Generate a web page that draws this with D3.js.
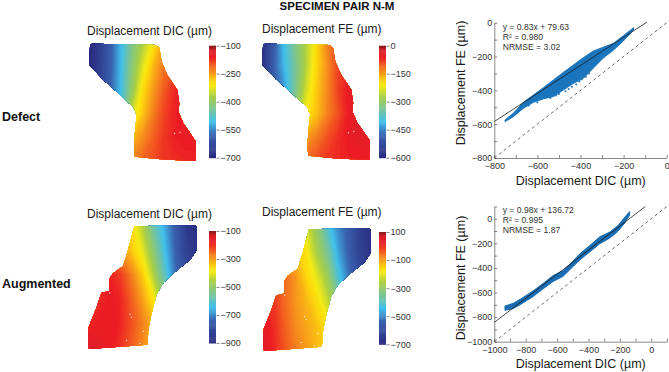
<!DOCTYPE html>
<html>
<head>
<meta charset="utf-8">
<script src="https://cdn.jsdelivr.net/npm/d3@7"></script>
<style>
  html, body { margin: 0; padding: 0; background: #fff; }
  text { font-family: "Liberation Sans", Arial, sans-serif; }
</style>
</head>
<body>
<svg id="fig" width="669" height="372"></svg>
<script>
"use strict";

// Specimen outlines, in percent of the specimen box (u across, v down)
var defectOutline = [[1,1],[3.4,0.6],[62.6,1.7],[65.7,3.9],[67.9,15.7],[73.2,26.9],[82.6,39.5],[84.4,50.7],[83.5,57.7],[88.2,67.5],[100,82.9],[99.7,99.2],[69.5,97.8],[43,95.5],[42,88.5],[43,74.5],[44.5,60.5],[41.4,53.5],[33.6,47.9],[27.4,42.3],[13.4,31.1],[0.3,18.5]];
var augmentedOutline = [[42.5,1.1],[98.5,0],[100,2.7],[99.4,20.8],[93.8,28.1],[78.5,38.9],[69.2,46.5],[63.1,55.9],[58.5,70.8],[55.4,84.3],[54.5,96.5],[23,98.6],[0.9,100],[0,89.7],[0.9,81.6],[7.7,66.8],[12.3,54.6],[20,53.2],[19.4,43.8],[23,38.9],[32.3,33],[36.9,19.5]];
var defectSpecks = [[85,75],[80,76],[89,67.5]];
var augmentedSpecks = [[20,54.6],[38.5,72],[40,74.3],[50.8,85.7],[35.4,93],[47.7,95.6]];

var defectDic = [
  [-700,-655,-590,-508,-425,-365,-305,-245,-215,-200,-190],
  [-700,-650,-585,-505,-410,-330,-265,-220,-195,-180,-175],
  [-700,-645,-580,-500,-395,-295,-245,-200,-165,-155,-150],
  [-700,-640,-570,-480,-340,-275,-225,-185,-160,-145,-140],
  [-400,-400,-400,-400,-265,-235,-205,-175,-158,-150,-150],
  [-400,-400,-400,-400,-225,-205,-190,-175,-168,-165,-165]
];
var defectFe = [
  [-590,-500,-405,-330,-265,-195,-130,-90,-75,-70,-70],
  [-580,-490,-415,-345,-265,-190,-140,-85,-65,-60,-55],
  [-560,-500,-440,-340,-245,-180,-135,-85,-50,-40,-40],
  [-400,-400,-350,-300,-210,-175,-130,-95,-55,-20,-20],
  [-250,-250,-250,-250,-150,-125,-95,-70,-50,-40,-45],
  [-150,-150,-150,-150,-105,-90,-75,-65,-60,-60,-60]
];
var augmentedDic = [
  [-300,-300,-300,-300,-355,-450,-570,-660,-750,-850,-890],
  [-250,-250,-250,-290,-340,-400,-510,-630,-740,-830,-870],
  [-200,-180,-180,-210,-270,-340,-450,-590,-720,-800,-850],
  [-210,-190,-170,-185,-240,-300,-370,-500,-600,-700,-750],
  [-185,-175,-165,-185,-225,-270,-320,-400,-500,-600,-700],
  [-130,-150,-170,-200,-240,-280,-320,-400,-500,-600,-700]
];
var augmentedFe = [
  [-100,-100,-100,-100,-210,-295,-410,-500,-560,-640,-680],
  [-60,-70,-90,-130,-170,-260,-350,-470,-550,-630,-670],
  [-10,-20,-50,-90,-150,-200,-280,-420,-520,-600,-650],
  [10,0,-50,-90,-120,-160,-230,-330,-450,-550,-600],
  [50,10,-40,-80,-105,-130,-170,-250,-350,-450,-550],
  [50,15,-30,-65,-95,-125,-150,-250,-350,-450,-550]
];

// Colour bars
var barStops = [0, 0.2, 0.32, 0.42, 0.55, 0.64, 0.68, 0.76, 0.9, 0.96, 1];
var barColors = ["#2a2a80", "#3a62ae", "#40c0ec", "#74c3a0", "#a9cf45", "#f6ea14", "#fdd80c", "#f7941d", "#ed1c24", "#d8202a", "#7a1a1a"];
var ticksDefectDic = [-700, -550, -400, -250, -100];
var ticksDefectFe = [-600, -450, -300, -150, 0];
var ticksAugmentedDic = [-900, -700, -500, -300, -100];
var ticksAugmentedFe = [-700, -500, -300, -100, 100];

// Scatter, defect: dense band edges and loose points below it
var defectX = [-750,-712,-665,-619,-572,-526,-480,-433,-387,-340,-294,-247,-201,-154];
var defectUpper = [-575,-536,-471,-428,-384,-339,-294,-250,-207,-167,-145,-122,-77,-30];
var defectLower = [-585,-556,-506,-471,-450,-437,-398,-359,-329,-268,-208,-162,-108,-43];
var defectLooseX = [-640,-600,-590,-555,-540,-515,-500,-470,-455,-440,-420,-405,-395,-375,-360];
var defectLooseY = [-490,-470,-452,-440,-445,-430,-422,-405,-392,-378,-365,-348,-335,-320,-300];

// Scatter, augmented
var augmentedX = [-932,-879,-816,-752,-689,-625,-561,-508,-455,-392,-328,-265,-212,-169,-138];
var augmentedUpper = [-710,-688,-640,-586,-526,-462,-422,-356,-285,-218,-147,-109,-56,12,58];
var augmentedLower = [-745,-730,-684,-632,-570,-510,-468,-400,-335,-270,-203,-158,-102,-34,28];

// Fits shown on the plots
var defectStats = ["y = 0.83x + 79.63", "R² = 0.980", "NRMSE = 3.02"];
var augmentedStats = ["y = 0.98x + 136.72", "R² = 0.995", "NRMSE = 1.87"];

var svg = d3.select("#fig");
var inkText = "#333";
var inkAxis = "#555";
var clipCount = 0;

function label(txt, x, y, size, opts) {
  opts = opts || {};
  var t = svg.append("text").attr("x", x).attr("y", y).text(txt)
    .attr("font-size", size).attr("fill", opts.fill || "#111")
    .attr("font-weight", opts.bold ? "bold" : "normal")
    .attr("text-anchor", opts.anchor || "start");
  if (opts.rotate) t.attr("transform", "rotate(-90," + x + "," + y + ")");
  return t;
}

/**
 * Draws one displacement map with its colour bar.
 */
function drawMap(m) {
  var lo = m.ticks[0], hi = m.ticks[m.ticks.length - 1];
  var color = d3.scaleLinear()
    .domain(barStops.map(function (t) { return lo + t * (hi - lo); }))
    .range(barColors);

  var x = d3.scaleLinear().domain([0, 100]).range([m.box[0], m.box[1]]);
  var y = d3.scaleLinear().domain([0, 100]).range([m.box[2], m.box[3]]);

  var id = "clip" + (clipCount++);
  var outline = d3.line().x(function (d) { return x(d[0]); }).y(function (d) { return y(d[1]); });
  svg.append("clipPath").attr("id", id).append("path")
    .attr("d", outline(m.outline) + "Z");

  var rows = m.grid.length, cols = m.grid[0].length;
  var contours = d3.contours().size([cols, rows])
    .thresholds(d3.range(lo - 100, hi + 100, 6))(m.grid.flat());
  var path = d3.geoPath(d3.geoTransform({
    point: function (cx, cy) {
      this.stream.point(x((cx - 0.5) * 100 / (cols - 1)), y((cy - 0.5) * 100 / (rows - 1)));
    }
  }));
  svg.append("g").attr("clip-path", "url(#" + id + ")")
    .selectAll("path").data(contours).enter().append("path")
    .attr("d", path)
    .attr("fill", function (d) { return color(d.value); });

  svg.append("g").selectAll("circle").data(m.specks).enter().append("circle")
    .attr("cx", function (d) { return x(d[0]); })
    .attr("cy", function (d) { return y(d[1]); })
    .attr("r", 0.7).attr("fill", "#fff").attr("opacity", 0.8);

  // colour bar
  var barY = d3.scaleLinear().domain([lo, hi]).range([m.bar[2], m.bar[1]]);
  var steps = d3.range(0, 120).map(function (i) { return lo + (i / 120) * (hi - lo); });
  var cell = (hi - lo) / 120;
  svg.append("g").selectAll("rect").data(steps).enter().append("rect")
    .attr("x", m.bar[0]).attr("width", 7)
    .attr("y", function (d) { return barY(d + cell); })
    .attr("height", function (d) { return barY(d) - barY(d + cell) + 0.5; })
    .attr("fill", function (d) { return color(d); });

  var axis = d3.axisRight(barY).tickValues(m.ticks).tickSize(3).tickPadding(1).tickFormat(d3.format("d"));
  var g = svg.append("g").attr("transform", "translate(" + (m.bar[0] + 7.5) + ",0)").call(axis);
  g.select(".domain").remove();
  g.selectAll("line").attr("stroke", inkAxis).attr("stroke-width", 0.7);
  g.selectAll("text").attr("font-size", 9).attr("fill", inkText).style("font-family", '"Liberation Sans"');

  label(m.title, (m.titleX), m.titleY, 12, { fill: "#1a1a1a" });
}

/**
 * Draws one DIC/FE scatter with its fit line and 1:1 line.
 */
function drawScatter(s) {
  var x = d3.scaleLinear().domain(s.xDomain).range(s.xRange);
  var y = d3.scaleLinear().domain(s.yDomain).range(s.yRange);

  var band = d3.area()
    .x(function (d) { return x(d[0]); })
    .y0(function (d) { return y(d[2]); })
    .y1(function (d) { return y(d[1]); });
  var rows = s.bandX.map(function (v, i) { return [v, s.upper[i], s.lower[i]]; });
  svg.append("path").attr("d", band(rows)).attr("fill", s.color)
    .attr("stroke", s.color).attr("stroke-width", 1).attr("stroke-linejoin", "round");

  svg.append("g").selectAll("circle").data(s.looseX).enter().append("circle")
    .attr("cx", function (d) { return x(d); })
    .attr("cy", function (d, i) { return y(s.looseY[i]); })
    .attr("r", 1).attr("fill", s.color);

  svg.append("line")
    .attr("x1", x(s.xDomain[0])).attr("y1", y(s.xDomain[0]))
    .attr("x2", x(s.xDomain[1])).attr("y2", y(s.xDomain[1]))
    .attr("stroke", "#444").attr("stroke-width", 0.8).attr("stroke-dasharray", "3,3");
  svg.append("line")
    .attr("x1", x(s.fitX[0])).attr("y1", y(s.slope * s.fitX[0] + s.intercept))
    .attr("x2", x(s.fitX[1])).attr("y2", y(s.slope * s.fitX[1] + s.intercept))
    .attr("stroke", "#1a1a1a").attr("stroke-width", 0.8);

  var gx = svg.append("g").attr("transform", "translate(0," + s.yRange[0] + ")")
    .call(d3.axisBottom(x).tickValues(d3.range(s.xDomain[0], s.xDomain[1] + 1, 100))
      .tickSizeInner(-3).tickSizeOuter(0).tickPadding(5)
      .tickFormat(function (d) { return d % 200 === 0 ? d3.format("d")(d) : ""; }));
  var gy = svg.append("g").attr("transform", "translate(" + s.xRange[0] + ",0)")
    .call(d3.axisLeft(y).tickValues(d3.range(s.yDomain[0], s.yDomain[1] + 1, 100))
      .tickSizeInner(-3).tickSizeOuter(0).tickPadding(2)
      .tickFormat(function (d) { return d % 200 === 0 ? d3.format("d")(d) : ""; }));
  [gx, gy].forEach(function (g) {
    g.selectAll("line").attr("stroke", inkAxis).attr("stroke-width", 0.7);
    g.select(".domain").attr("stroke", inkAxis).attr("stroke-width", 0.7);
    g.selectAll("text").attr("font-size", 9).attr("fill", inkText).style("font-family", '"Liberation Sans"');
  });

  s.stats.forEach(function (line, i) {
    label(line, s.statsX, s.statsY + i * 10, 8.6, { fill: inkText });
  });
  label("Displacement DIC (µm)", s.xTitle[0], s.xTitle[1], 12.5, { anchor: "middle", fill: "#1a1a1a" });
  label("Displacement FE (µm)", s.yTitle[0], s.yTitle[1], 12.5, { anchor: "middle", rotate: true, fill: "#1a1a1a" });
}

label("SPECIMEN PAIR N-M", 337, 10, 11.5, { bold: true, anchor: "middle" });
label("Defect", 2, 121, 12.5, { bold: true });
label("Augmented", 2, 288, 12.5, { bold: true });

drawMap({ grid: defectDic, outline: defectOutline, specks: defectSpecks, ticks: ticksDefectDic,
  box: [89, 196, 43, 162], bar: [209, 45.7, 157.7], title: "Displacement DIC (µm)", titleX: 87, titleY: 35 });
drawMap({ grid: defectFe, outline: defectOutline, specks: defectSpecks, ticks: ticksDefectFe,
  box: [262, 370, 43, 161], bar: [379, 45.7, 157.7], title: "Displacement FE (µm)", titleX: 262, titleY: 33 });
drawMap({ grid: augmentedDic, outline: augmentedOutline, specks: augmentedSpecks, ticks: ticksAugmentedDic,
  box: [88, 197, 225, 349], bar: [209, 231, 343], title: "Displacement DIC (µm)", titleX: 87, titleY: 217.5 });
drawMap({ grid: augmentedFe, outline: augmentedOutline, specks: augmentedSpecks, ticks: ticksAugmentedFe,
  box: [263, 371, 228, 351], bar: [379, 232, 344.3], title: "Displacement FE (µm)", titleX: 262, titleY: 215.5 });

drawScatter({ xDomain: [-800, 0], yDomain: [-800, 0], xRange: [494.3, 666.7], yRange: [158, 22.7],
  bandX: defectX, upper: defectUpper, lower: defectLower, looseX: defectLooseX, looseY: defectLooseY,
  color: "#1b75bc", slope: 0.83, intercept: 79.63, fitX: [-800, -93], stats: defectStats,
  statsX: 502.7, statsY: 30, xTitle: [580.7, 185], yTitle: [465, 83] });
drawScatter({ xDomain: [-1000, 100], yDomain: [-1000, 100], xRange: [494.3, 667], yRange: [341.7, 206.4],
  bandX: augmentedX, upper: augmentedUpper, lower: augmentedLower, looseX: [], looseY: [],
  color: "#1a6db2", slope: 0.98, intercept: 136.72, fitX: [-1000, -38], stats: augmentedStats,
  statsX: 502.7, statsY: 213, xTitle: [580.7, 368], yTitle: [465, 278] });
</script>
</body>
</html>
